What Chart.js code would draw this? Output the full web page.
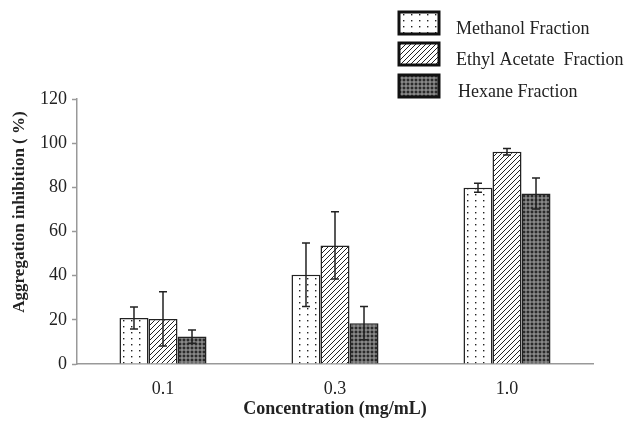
<!DOCTYPE html>
<html>
<head>
<meta charset="utf-8">
<script src="https://cdn.jsdelivr.net/npm/chart.js@4.4.0/dist/chart.umd.min.js"></script>
<style>
  html, body { margin:0; padding:0; background:#fff; }
  #wrap { position:relative; width:630px; height:424px; }
</style>
</head>
<body>
<div id="wrap"><canvas id="chart" width="630" height="424"></canvas></div>
<script>
// ---- data ----
var categories = ['0.1', '0.3', '1.0'];
var seriesNames = ['Methanol Fraction', 'Ethyl Acetate  Fraction', 'Hexane Fraction'];
var methanol = [20.8, 40.4, 79.8];
var methanolErr = [5.0, 14.4, 2.0];
var ethyl = [20.4, 53.7, 96.1];
var ethylErr = [12.3, 15.2, 1.5];
var hexane = [12.4, 18.5, 77.2];
var hexaneErr = [3.0, 7.5, 7.0];
var yTicks = [0, 20, 40, 60, 80, 100, 120];
var yTitle = 'Aggregation inhibition ( %)';

var SERIF = '"Liberation Serif", "DejaVu Serif", serif';

// ---- fill patterns ----
function makePattern(w, h, draw) {
  var c = document.createElement('canvas');
  c.width = w; c.height = h;
  var g = c.getContext('2d');
  draw(g, w, h);
  return g.createPattern(c, 'repeat');
}
var ctxMain = document.getElementById('chart').getContext('2d');

var dotFill = makePattern(8, 6, function(g, w, h) {
  g.fillStyle = '#fff'; g.fillRect(0, 0, w, h);
  g.fillStyle = '#222';
  g.fillRect(3, 2, 1.4, 1.4);
});
var hatchFill = makePattern(5, 5, function(g, w, h) {
  g.fillStyle = '#fff'; g.fillRect(0, 0, w, h);
  g.strokeStyle = '#222'; g.lineWidth = 1;
  g.beginPath();
  g.moveTo(-1, 6); g.lineTo(6, -1);
  g.moveTo(-1, 1); g.lineTo(1, -1);
  g.moveTo(4, 6); g.lineTo(6, 4);
  g.stroke();
});
var crossFill = makePattern(4, 4, function(g, w, h) {
  g.fillStyle = '#2a2a2a'; g.fillRect(0, 0, w, h);
  g.strokeStyle = '#d4d4d4'; g.lineWidth = 0.8;
  g.beginPath(); g.arc(2, 2, 1.2, 0, Math.PI * 2); g.stroke();
});

var fills = [dotFill, hatchFill, crossFill];
var errs = [methanolErr, ethylErr, hexaneErr];

// ---- error bars ----
var errorBarPlugin = {
  id: 'errorBars',
  afterDatasetsDraw: function(chart) {
    var ctx = chart.ctx, y = chart.scales.y;
    ctx.save();
    ctx.strokeStyle = '#222';
    ctx.lineWidth = 1.5;
    chart.data.datasets.forEach(function(ds, di) {
      var meta = chart.getDatasetMeta(di);
      meta.data.forEach(function(bar, i) {
        var v = ds.data[i], e = errs[di][i];
        var yt = y.getPixelForValue(v + e), yb = y.getPixelForValue(v - e);
        ctx.beginPath();
        ctx.moveTo(bar.x, yt); ctx.lineTo(bar.x, yb);
        ctx.moveTo(bar.x - 4, yt); ctx.lineTo(bar.x + 4, yt);
        ctx.moveTo(bar.x - 4, yb); ctx.lineTo(bar.x + 4, yb);
        ctx.stroke();
      });
    });
    ctx.restore();
  }
};

// ---- legend (top right) and the y title, which sits above centre in the original ----
var legendPlugin = {
  id: 'boxLegend',
  afterDraw: function(chart) {
    var ctx = chart.ctx;
    var rows = [{ y: 12, base: 34, tx: 456 }, { y: 43, base: 65, tx: 456 }, { y: 75, base: 97, tx: 458 }];
    ctx.save();
    chart.data.datasets.forEach(function(ds, di) {
      var r = rows[di];
      ctx.fillStyle = ds.backgroundColor;
      ctx.fillRect(399, r.y, 40, 22);
      ctx.strokeStyle = '#111';
      ctx.lineWidth = 3;
      ctx.strokeRect(399, r.y, 40, 22);
      ctx.fillStyle = '#222';
      ctx.font = '18px ' + SERIF;
      ctx.textBaseline = 'alphabetic';
      ctx.textAlign = 'left';
      ctx.fillText(ds.label, r.tx, r.base);
    });
    // y axis title
    ctx.translate(20, 212);
    ctx.rotate(-Math.PI / 2);
    ctx.font = 'bold 17px ' + SERIF;
    ctx.textAlign = 'center';
    ctx.textBaseline = 'middle';
    ctx.fillText(yTitle, 0, 0);
    ctx.restore();
  }
};

var datasets = [methanol, ethyl, hexane].map(function(vals, i) {
  return {
    label: seriesNames[i],
    data: vals,
    backgroundColor: fills[i],
    borderColor: '#222',
    borderWidth: 1.5,
    borderSkipped: 'bottom'
  };
});

new Chart(ctxMain, {
  type: 'bar',
  data: { labels: categories, datasets: datasets },
  options: {
    responsive: false,
    animation: false,
    devicePixelRatio: 1,
    categoryPercentage: 0.506,
    barPercentage: 1,
    layout: { padding: { top: 99, right: 37, bottom: 0, left: 0 } },
    plugins: {
      legend: { display: false },
      tooltip: { enabled: false }
    },
    scales: {
      x: {
        grid: { display: false, drawTicks: false },
        border: { display: true, color: '#999', width: 1.5 },
        ticks: { color: '#222', padding: 14, font: { family: SERIF, size: 18 } },
        title: {
          display: true, text: 'Concentration (mg/mL)', color: '#222',
          font: { family: SERIF, size: 18, weight: 'bold' },
          padding: { top: 0, bottom: 4 }
        },
        afterFit: function(s) { s.height = 60; }
      },
      y: {
        min: 0, max: 120,
        afterBuildTicks: function(s) { s.ticks = yTicks.map(function(v) { return { value: v }; }); },
        grid: { drawOnChartArea: false, drawTicks: true, tickLength: 5, color: '#999', tickWidth: 1.5 },
        border: { display: true, color: '#999', width: 1.5 },
        ticks: { color: '#222', padding: 5, font: { family: SERIF, size: 18 } },
        afterFit: function(s) { s.width = 77; }
      }
    }
  },
  plugins: [errorBarPlugin, legendPlugin]
});
</script>
</body>
</html>
